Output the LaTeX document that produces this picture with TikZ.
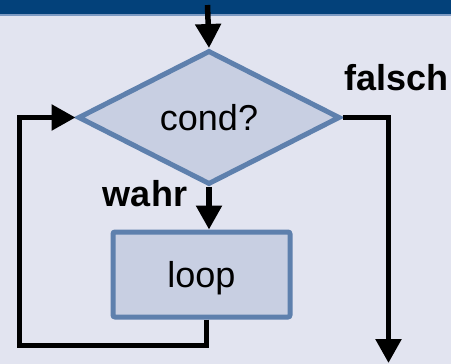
\documentclass[tikz,border=0pt]{standalone}
\usepackage{fontspec}
\setmainfont{Liberation Sans}
\usetikzlibrary{shapes.geometric,arrows.meta}
\definecolor{pagebg}{HTML}{E2E4F0}
\definecolor{bandblue}{HTML}{03417A}
\definecolor{bandline}{HTML}{7D9AC2}
\definecolor{shapefill}{HTML}{C8CFE2}
\definecolor{shapeedge}{HTML}{5E80AD}
\tikzset{
  flowshape/.style={draw=shapeedge, fill=shapefill, line width=5pt, inner sep=0pt,
    font=\fontsize{36}{40}\selectfont},
  decision/.style={flowshape, shape=diamond, minimum width=262pt, minimum height=134pt},
  process/.style={flowshape, rectangle, rounded corners=2pt, minimum width=177pt,
    minimum height=85pt, text depth=0pt},
  flow/.style={line width=5.5pt, draw=black, -{Triangle[length=24pt,width=25pt]}},
  link/.style={line width=5.5pt, draw=black},
  edgelabel/.style={font=\fontsize{36}{40}\selectfont\bfseries, inner sep=0pt, anchor=base}
}
\begin{document}
\begin{tikzpicture}[x=1pt,y=-1pt]
  % page background and title band
  \fill[pagebg] (0,0) rectangle (451,364);
  \useasboundingbox (0,0) rectangle (451,364);
  \fill[bandblue] (0,0) rectangle (451,13.5);
  \fill[bandline] (0,13.5) rectangle (451,15.5);

  % shapes
  \node[decision] (cond) at (209,117.5) {cond?};
  \node[process] (loop) at (201.5,274.5) {loop};

  % labels
  \node[edgelabel] (falsch) at (396.5,90) {falsch};
  \node[edgelabel] (wahr) at (145,206.5) {wahr};

  % free ends of connectors
  \coordinate (entry) at (207.5,5);
  \coordinate (exit) at (388.5,363);
  \coordinate (backbottom) at (206.5,345.5);
  \coordinate (backleft) at (19.5,345.5);

  % connectors
  \draw[flow] (entry) -- (cond.north);
  \draw[flow] (cond.south) -- (cond.south |- loop.north);
  \draw[flow] (backbottom |- loop.south) -- (backbottom) -- (backleft)
              -- (backleft |- cond.west) -- (cond.west);
  \draw[flow] (cond.east) -- (exit |- cond.east) -- (exit);
\end{tikzpicture}
\end{document}
